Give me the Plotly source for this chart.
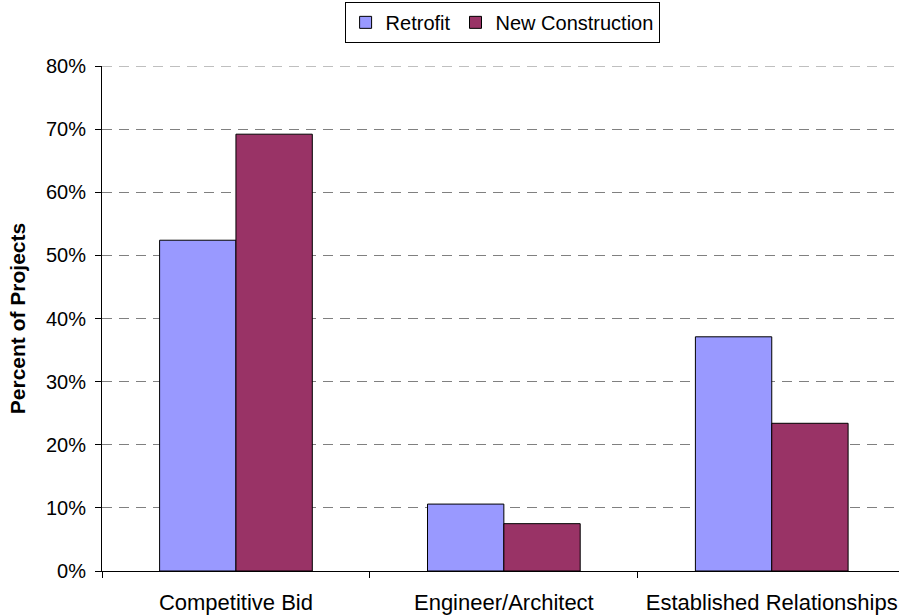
import plotly.graph_objects as go

categories = ["Competitive Bid", "Engineer/Architect", "Established Relationships"]
retrofit = [0.524, 0.106, 0.371]
new_construction = [0.692, 0.075, 0.234]
series_names = ["Retrofit", "New Construction"]
colors = ["#9999FF", "#993366"]
y_max = 0.8

font_family = "Liberation Sans, Arial, sans-serif"

fig = go.Figure()
for name, vals, col in zip(series_names, [retrofit, new_construction], colors):
    fig.add_trace(go.Bar(
        x=categories, y=vals, name=name,
        marker=dict(color=col, line=dict(color="black", width=1)),
    ))

# top gridline (plotly omits the grid line at the range edge)
fig.add_hline(y=y_max, line=dict(color="#808080", width=1, dash="10px,7px"), layer="below")

fig.update_layout(
    width=899, height=616,
    margin=dict(l=102, r=0, t=66, b=45),
    paper_bgcolor="white", plot_bgcolor="white",
    font=dict(family=font_family, size=21, color="black"),
    barmode="group", bargap=0.43, bargroupgap=0,
    showlegend=True,
    legend=dict(
        orientation="h", x=0.502, xref="paper", xanchor="center",
        y=0.997, yref="container", yanchor="top",
        bordercolor="black", borderwidth=1, bgcolor="white",
        font=dict(size=20), itemwidth=30, tracegroupgap=0,
        traceorder="normal",
    ),
    xaxis=dict(
        type="category", range=[-0.5, 2.475],
        showline=True, linecolor="black", linewidth=1,
        ticks="outside", tickson="boundaries", ticklen=6, tickcolor="black",
        showgrid=False, tickfont=dict(size=22), ticklabelstandoff=12,
    ),
    yaxis=dict(
        range=[0, y_max], dtick=0.1,
        tickformat=".0%",
        showline=True, linecolor="black", linewidth=1,
        ticks="outside", ticklen=6, tickcolor="black",
        showgrid=True, gridcolor="#808080", gridwidth=1, griddash="10px,7px",
        zeroline=False, tickfont=dict(size=20), ticklabelstandoff=5,
        title=dict(text="<b>Percent of Projects</b>", font=dict(size=21), standoff=14),
    ),
)

fig.write_html("out.html")
